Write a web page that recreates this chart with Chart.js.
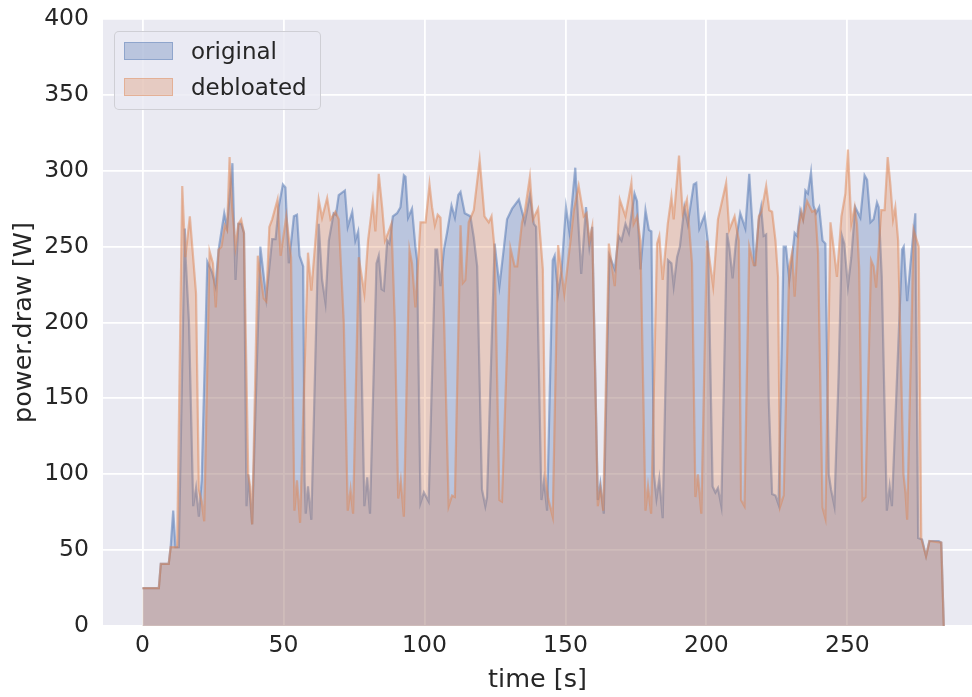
<!DOCTYPE html>
<html>
<head>
<meta charset="utf-8">
<script src="https://cdn.jsdelivr.net/npm/chart.js@4"></script>
<style>
  body { margin: 0; background: #ffffff; }
  #wrap { position: relative; width: 972px; height: 697px; }
  #legend {
    position: absolute; left: 114px; top: 31px; width: 205px; height: 77px;
    border: 1px solid rgba(204, 204, 210, 0.9); border-radius: 5px;
    background: rgba(234, 234, 242, 0.8);
    font-family: "DejaVu Sans", sans-serif; font-size: 23px; color: #262626;
  }
  .item { position: absolute; left: 9px; height: 20px; display: flex; align-items: center; }
  .patch { width: 47px; height: 16px; margin-right: 18px; }
</style>
</head>
<body>
<div id="wrap">
  <canvas id="chart" width="972" height="697"></canvas>
  <div id="legend">
    <div class="item" style="top: 9px;"><span class="patch" style="background: rgba(76,114,176,0.3); border: 1px solid rgba(76,114,176,0.4);"></span>original</div>
    <div class="item" style="top: 45px;"><span class="patch" style="background: rgba(221,132,82,0.3); border: 1px solid rgba(221,132,82,0.4);"></span>debloated</div>
  </div>
</div>
<script>
// time [s] and power.draw [W]
const origT = [0, 5.8, 6.5, 9.3, 10, 10.9, 11.7, 12.9, 15, 15.3, 16.5, 18, 19, 20, 21, 23, 24.7, 25.9, 27, 29, 30, 31.9, 33, 34, 35, 36, 36.9, 37.5, 38.9, 41.8, 43.9, 46, 47.2, 48.3, 49.8, 50.7, 51.9, 53.7, 54.8, 55.7, 57, 57.5, 57.9, 58.7, 59.9,
  62.5, 63.7, 64.9, 66.1, 67.8, 68.6, 69.6, 71.8, 72.8, 74.4, 75.5, 76.5, 76.9, 78.7, 79.7, 80.7, 83, 83.8, 84.8, 85.6, 86.8, 87.6, 88.8, 90.3, 91.5, 92.7, 93.3, 94.2, 95.6, 96.8, 97.4, 98.6, 99.8, 101.5,
  103.9, 104.5, 105.7, 106.9, 108, 109.6, 110.8, 112, 112.8, 114.3, 116.3, 117.5, 118.7, 120.4, 121.6, 122.2, 124.9, 126.6, 128.1, 129.3, 131.1, 133.5, 135.6, 137.4, 138.8, 139.6, 141.5, 142.4, 143.5,
  145.5, 146.2, 147.4, 148.6, 150.2, 151.4, 153.5, 155.6, 157.3, 158.5, 159.5, 161.5, 162.4, 163.6, 165.6, 167.5, 168.9, 169.9, 171.3, 172.5, 174.5, 175.4, 176.6, 178.4, 179.6, 180.5, 181.4, 182.3, 183.3, 184.5,
  186.4, 187.6, 188.4, 189.6, 190.6, 192.2, 193.4, 195.5, 196.4, 197.5, 199.4, 200.6, 202.2, 203.2, 204.1, 205.3, 207.3, 208.1, 209.3, 210.5, 212, 213.8, 215.2, 216.2, 217.1, 218.6, 219.4, 220.3, 221.2, 222.1, 223.3, 224.5, 225.6,
  227.4, 228.2, 229.4, 230.4, 231.3, 232.2, 233.3, 234.3, 235.1, 236, 237.1, 238, 238.9, 240, 241.2, 242.2, 243.4, 244.2, 245.4, 246.9, 248.1, 248.9, 250.2, 251.4, 252.8, 254.6, 256.1, 257, 258.2, 259.3, 260.5, 261.1, 262.2,
  264, 265, 265.8, 269.4, 270, 271.2, 272.7, 274.1, 275.1, 276.5, 277.9, 279.1, 282.4, 283.3, 284.2];
const origW = [25, 25, 41, 41, 52, 76, 52, 52, 262, 243, 200, 79, 91, 72, 96, 240, 233, 224, 248, 272, 263, 305, 228, 265, 265, 259, 79, 100, 67, 250, 216, 255, 255, 276, 291, 289, 239, 270, 271, 244, 237, 96, 74, 92, 70,
  265, 228, 213, 254, 272, 271, 284, 287, 263, 273, 254, 260, 248, 79, 98, 74, 239, 244, 222, 221, 254, 252, 270, 272, 276, 297, 296, 269, 275, 250, 241, 81, 88, 82,
  248, 248, 224, 248, 259, 277, 269, 284, 286, 272, 270, 256, 237, 90, 79, 85, 252, 224, 248, 268, 275, 281, 266, 284, 265, 263, 83, 96, 76,
  241, 244, 219, 234, 276, 260, 302, 232, 276, 250, 263, 83, 94, 74, 244, 235, 257, 254, 265, 259, 285, 280, 235, 274, 261, 260, 100, 84, 97, 71,
  241, 239, 224, 243, 250, 276, 265, 291, 292, 262, 271, 252, 92, 88, 91, 79, 259, 250, 229, 254, 272, 262, 298, 268, 237, 268, 276, 257, 258, 150, 87, 86, 80,
  250, 250, 228, 243, 259, 257, 274, 268, 287, 285, 299, 277, 272, 276, 254, 252, 100, 90, 79, 166, 257, 252, 224, 243, 276, 269, 297, 294, 266, 268, 279, 276, 230,
  76, 92, 79, 248, 250, 214, 245, 272, 58, 57, 46, 56, 56, 55, 0];

const debT = [0, 5.8, 6.5, 9.3, 10, 12.3, 14.1, 15.2, 16.8, 19, 20, 21, 21.9, 23.8, 25, 26, 27, 28, 29.2, 30, 30.9, 31.8, 33, 34, 35, 36, 37.5, 38.2, 38.9, 40.9, 43, 43.9, 45, 46, 47.9, 49, 51, 52.7, 53.9, 54.8, 55.9, 58.7, 59.9,
  62.5, 63.7, 65.5, 66.7, 68.4, 69.6, 71.4, 72.8, 73.8, 74.7, 76.7, 78.7, 80, 81.7, 82.6, 83.8, 85, 86, 87.1, 88.3, 89.5, 90.7, 91.6, 92.7, 94.7, 95.6, 96.8, 98.6, 100.4, 101.8, 102.7, 103.7, 104.7, 105.7, 107,
  108.6, 109.8, 110.8, 112.8, 113.6, 114.5, 115.7, 117.5, 119.6, 121.3, 122.8, 123.8, 124.9, 126.6, 127.5, 130.5, 132, 132.9, 134.6, 135.6, 137.4, 138.5, 140.3, 142, 142.9, 143.9, 145.5,
  147.4, 149.6, 151.8, 153, 154.7, 156.5, 157.5, 158.5, 159.5, 161.5, 162.4, 163.4, 165.4, 167.5, 169.3, 171.3, 173.4, 174.2, 175.4, 176.6, 178.4, 179.3, 180.4, 182.5, 183.3, 184.5, 186.3, 187.6, 188.4,
  190.3, 191.6, 193.1, 194.9, 196.1, 197, 198.2, 200.2, 202.4, 204.1, 207, 208.1, 210, 211.5, 212.3, 213.5, 215.2, 216.8, 217.4, 218.6, 219.5, 221.2, 222.3, 223.3, 224.5, 225.4, 226.2, 227.4,
  229.4, 230.4, 231.3, 232.7, 233.7, 234.3, 235.7, 237.5, 238.6, 239.6, 241.2, 242.2, 244, 245.2, 246.3, 247.9, 249.3, 250.2, 251.4, 252.6, 253.4, 254.2, 255.4, 256.4,
  258.4, 259.3, 260.2, 262, 263.2, 264.3, 265.2, 266.2, 267, 268, 269.9, 270.6, 271.2, 273.5, 275.3, 276.2, 277.9, 279.1, 283.3, 284.2];
const debW = [25, 25, 41, 41, 52, 52, 290, 243, 270, 219, 90, 82, 69, 247, 239, 210, 248, 250, 264, 261, 309, 276, 250, 265, 268, 259, 100, 92, 67, 244, 216, 214, 263, 268, 281, 244, 270, 243, 76, 96, 68, 246, 221,
  281, 269, 282, 268, 273, 268, 200, 76, 90, 74, 243, 219, 254, 280, 260, 298, 276, 254, 259, 265, 200, 84, 96, 72, 248, 239, 210, 266, 266, 291, 276, 264, 271, 269, 200,
  79, 86, 85, 264, 226, 228, 266, 274, 307, 270, 266, 270, 248, 83, 82, 249, 237, 237, 266, 273, 296, 268, 275, 235, 100, 84, 72,
  251, 219, 254, 274, 290, 270, 272, 254, 263, 79, 91, 76, 252, 224, 281, 270, 292, 265, 270, 254, 76, 92, 74, 252, 257, 228, 265, 283, 268,
  310, 272, 281, 239, 85, 100, 74, 254, 224, 268, 292, 261, 270, 254, 83, 79, 250, 238, 238, 270, 273, 290, 274, 273, 254, 230, 79, 86,
  237, 246, 217, 263, 273, 268, 280, 273, 274, 246, 78, 71, 266, 248, 230, 270, 285, 314, 265, 276, 265, 235, 83, 85,
  241, 237, 223, 274, 274, 309, 292, 268, 276, 254, 100, 88, 70, 261, 250, 58, 46, 56, 55, 0];

const xTicks = [0, 50, 100, 150, 200, 250];

const blue = "76, 114, 176";
const orange = "221, 132, 82";
const ink = "#262626";

function toPoints(ts, ws) {
    return ts.map((t, i) => ({ x: t, y: ws[i] }));
}

new Chart(document.getElementById("chart"), {
    type: "line",
    data: {
        datasets: [
            {
                label: "original",
                data: toPoints(origT, origW),
                fill: "origin",
                backgroundColor: `rgba(${blue}, 0.3)`,
                borderColor: `rgba(${blue}, 0.5)`,
                borderWidth: 2.2,
                pointRadius: 0,
                tension: 0,
                order: 1
            },
            {
                label: "debloated",
                data: toPoints(debT, debW),
                fill: "origin",
                backgroundColor: `rgba(${orange}, 0.3)`,
                borderColor: `rgba(${orange}, 0.5)`,
                borderWidth: 2.2,
                pointRadius: 0,
                tension: 0,
                order: 0
            }
        ]
    },
    options: {
        responsive: false,
        animation: false,
        layout: { padding: { top: 19, right: 0, left: 0, bottom: 0 } },
        plugins: {
            legend: { display: false },
            tooltip: { enabled: false }
        },
        scales: {
            x: {
                type: "linear",
                min: -14,
                max: 294.2,
                afterBuildTicks: scale => { scale.ticks = xTicks.map(v => ({ value: v })); },
                afterFit: scale => { scale.height = 71; scale.paddingLeft = 0; scale.paddingRight = 0; },
                border: { display: false },
                grid: { color: "#ffffff", lineWidth: 1.8, drawTicks: false },
                ticks: {
                    color: ink,
                    padding: 6,
                    maxRotation: 0,
                    font: { family: "DejaVu Sans", size: 23.5 }
                },
                title: {
                    display: true,
                    text: "time [s]",
                    color: ink,
                    padding: { top: 0, bottom: 1 },
                    font: { family: "DejaVu Sans", size: 25.5 }
                }
            },
            y: {
                min: 0,
                max: 400,
                afterFit: scale => { scale.width = 103; scale.paddingTop = 0; scale.paddingBottom = 0; },
                border: { display: false },
                grid: { color: "#ffffff", lineWidth: 1.8, drawTicks: false },
                ticks: {
                    stepSize: 50,
                    color: ink,
                    padding: 14,
                    font: { family: "DejaVu Sans", size: 23.5 }
                },
                title: {
                    display: true,
                    text: "power.draw [W]",
                    color: ink,
                    padding: { top: 9, bottom: 0 },
                    font: { family: "DejaVu Sans", size: 25.5 }
                }
            }
        }
    },
    plugins: [{
        id: "bg",
        beforeDraw: chart => {
            const { ctx, chartArea: a } = chart;
            ctx.save();
            ctx.fillStyle = "#eaeaf2";
            ctx.fillRect(a.left, a.top, a.right - a.left, a.bottom - a.top);
            ctx.restore();
        }
    }]
});
</script>
</body>
</html>
